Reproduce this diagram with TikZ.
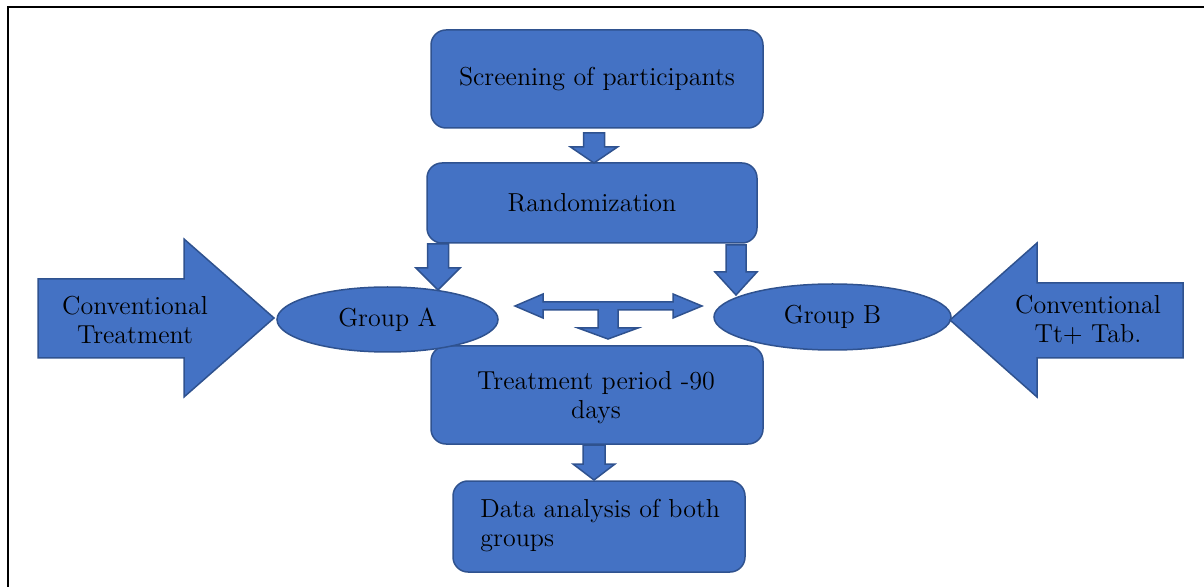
\documentclass[tikz,border=0pt]{standalone}
\usepackage{tikz}
\usetikzlibrary{calc,shapes.geometric}
\definecolor{boxblue}{HTML}{4472C4}
\definecolor{edgeblue}{HTML}{2F528F}
\tikzset{
	box/.style = {draw=edgeblue, fill=boxblue, line width=0.75pt, rounded corners=7.5pt, align=center, inner sep=0pt},
	grp/.style = {draw=edgeblue, fill=boxblue, line width=0.75pt, ellipse, inner sep=0pt},
	blk/.style = {draw=edgeblue, fill=boxblue, line width=0.75pt, line join=miter},
	lbl/.style = {align=center, font=\fontsize{13}{14.5}\selectfont}
}
% block arrow pointing down: x, top, neck, tip, shaft half width, head half width
\newcommand{\dnarrow}[6]{
	\filldraw[blk] (#1-#5,#2) -- (#1+#5,#2) -- (#1+#5,#3) -- (#1+#6,#3) -- (#1,#4) -- (#1-#6,#3) -- (#1-#5,#3) -- cycle;
}
\begin{document}
\begin{tikzpicture}[x=0.5pt, y=-0.5pt]
		\useasboundingbox (0,0) rectangle (1204,587);
		\draw[line width=1pt] (8,587) -- (8,7) -- (1204,7);
		% boxes
		\node[box, lbl, minimum width=166pt, minimum height=49pt] (screen) at (597,79) {Screening of participants};
		\node[box, lbl, minimum width=165pt, minimum height=40pt] (rand) at (592,203) {Randomization};
		\node[box, minimum width=166pt, minimum height=49pt] (treat) at (597,395) {};
		\node[lbl] (treattxt) at (596,398) {Treatment period -90\\days};
		\node[box, minimum width=146pt, minimum height=45.5pt] (data) at (599,526.5) {};
		\node[lbl, align=left, anchor=west, inner sep=0pt] (datatxt) at (480,526) {Data analysis of both\\groups};
		\node[grp, lbl, minimum width=110.5pt, minimum height=32.5pt] (grpA) at (387.5,319.5) {Group A};
		\node[grp, lbl, minimum width=118.5pt, minimum height=33pt] (grpB) at (832.5,317) {Group B};
		% down arrows
		\dnarrow{594}{133}{147}{163}{10.5}{23.5}
		\dnarrow{438}{244}{268}{290}{10.5}{22}
		\dnarrow{736}{245}{272}{295}{10}{21}
		\dnarrow{594}{445}{464}{480}{11}{21}
		% two way arrow with stem
		\filldraw[blk] (515,306) -- (543,294) -- (543,302) -- (673,302) -- (673,294) -- (702,306) -- (673,318) -- (673,310)
			-- (618,310) -- (618,328) -- (638,328) -- (608,339) -- (578,328) -- (598,328) -- (598,310)
			-- (543,310) -- (543,318) -- cycle;
		% side arrows
		\filldraw[blk] (38,279) -- (184,279) -- (184,239) -- (274,318) -- (184,397) -- (184,358) -- (38,358) -- cycle;
		\filldraw[blk] (1183,283) -- (1037,283) -- (1037,243) -- (950,320) -- (1037,397) -- (1037,358) -- (1183,358) -- cycle;
		\node[lbl] (convA) at (135,320) {Conventional\\Treatment};
		\node[lbl] (convB) at (1088,320) {Conventional\\Tt+ Tab.};
\end{tikzpicture}
\end{document}
